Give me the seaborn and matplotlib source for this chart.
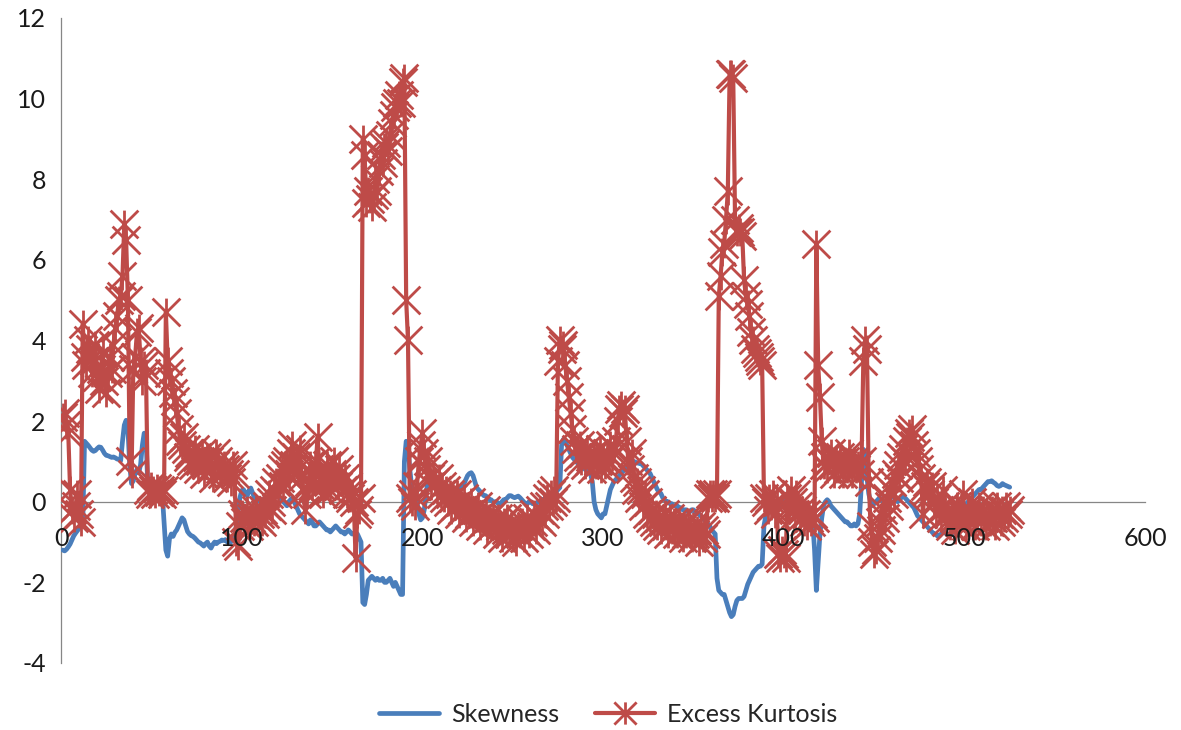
import matplotlib
matplotlib.use("Agg")
import matplotlib.pyplot as plt
from matplotlib.path import Path
import pandas as pd
import seaborn as sns

# skewness, one value per observation (index 1..)
skewness = [
    -1.20, -1.22, -1.18, -1.12, -1.05, -0.95, -0.85, -0.78, -0.72, -0.66,
    -0.62, -0.60, 1.50, 1.45, 1.40, 1.34, 1.28, 1.25, 1.27, 1.32,
    1.36, 1.35, 1.28, 1.20, 1.15, 1.14, 1.12, 1.10, 1.11, 1.09,
    1.06, 1.05, 1.02, 1.50, 1.90, 2.02, 1.80, 0.90, 0.45, 0.52,
    0.70, 0.80, 0.72, 0.92, 1.40, 1.70, 1.60, 0.40, 0.32, 0.30,
    0.26, 0.25, 0.30, 0.31, 0.28, 0.20, -0.50, -1.20, -1.35, -0.92,
    -0.80, -0.86, -0.76, -0.70, -0.60, -0.50, -0.40, -0.45, -0.60, -0.74,
    -0.80, -0.84, -0.86, -0.90, -0.95, -1.00, -1.02, -1.06, -1.10, -1.04,
    -1.00, -1.10, -1.15, -1.06, -1.00, -1.04, -1.00, -0.98, -0.95, -0.96,
    -0.94, -1.00, -0.99, -1.00, -0.95, -0.88, -0.60, -0.20, 0.10, 0.28,
    0.30, 0.20, 0.14, 0.28, 0.34, 0.22, 0.10, 0.08, 0.04, 0.00,
    0.00, 0.05, 0.10, 0.05, 0.00, -0.05, 0.00, 0.10, 0.20, 0.15,
    0.10, 0.05, 0.00, -0.05, -0.10, 0.00, 0.05, 0.10, 0.00, -0.10,
    -0.20, -0.30, -0.35, -0.40, -0.45, -0.50, -0.55, -0.45, -0.50, -0.60,
    -0.60, -0.55, -0.50, -0.55, -0.60, -0.65, -0.70, -0.70, -0.75, -0.70,
    -0.65, -0.60, -0.65, -0.70, -0.75, -0.75, -0.80, -0.75, -0.70, -0.75,
    -0.80, -0.80, -0.75, -0.80, -0.90, -1.00, -2.50, -2.55, -2.30, -1.95,
    -1.90, -1.85, -1.90, -1.95, -1.90, -1.95, -1.95, -1.90, -2.00, -2.00,
    -1.95, -1.90, -2.00, -2.10, -2.00, -2.10, -2.20, -2.30, -2.30, 1.00,
    1.50, 1.40, 0.80, 0.40, 0.30, 0.20, 0.00, -0.30, -0.45, -0.40,
    -0.20, 0.20, 0.50, 0.60, 0.60, 0.55, 0.50, 0.50, 0.45, 0.40,
    0.35, 0.30, 0.30, 0.25, 0.30, 0.25, 0.20, 0.20, 0.25, 0.30,
    0.35, 0.40, 0.45, 0.55, 0.65, 0.70, 0.72, 0.65, 0.50, 0.35,
    0.30, 0.25, 0.20, 0.15, 0.15, 0.10, 0.05, 0.05, 0.00, 0.00,
    0.00, -0.05, -0.05, 0.00, 0.05, 0.05, 0.10, 0.15, 0.15, 0.12,
    0.10, 0.12, 0.14, 0.10, 0.05, 0.00, -0.05, -0.05, 0.00, 0.00,
    -0.05, -0.05, -0.05, 0.00, 0.00, 0.05, 0.05, 0.10, 0.10, 0.10,
    0.10, 0.15, 0.20, 0.25, 0.30, 0.35, 1.40, 1.55, 1.50, 1.40,
    1.30, 1.20, 1.10, 1.05, 1.00, 0.95, 0.90, 0.90, 0.85, 0.80,
    0.80, 0.75, 0.70, 0.50, 0.00, -0.20, -0.30, -0.35, -0.40, -0.30,
    -0.30, -0.10, 0.10, 0.30, 0.40, 0.50, 0.55, 0.60, 0.65, 0.70,
    0.75, 0.80, 0.85, 0.90, 0.95, 1.00, 1.00, 0.98, 0.96, 0.95,
    0.95, 0.90, 0.85, 0.80, 0.75, 0.70, 0.60, 0.50, 0.40, 0.30,
    0.25, 0.20, 0.10, 0.05, 0.00, 0.00, -0.05, -0.05, -0.10, -0.10,
    -0.10, -0.15, -0.15, -0.20, -0.20, -0.20, -0.25, -0.25, -0.20, -0.20,
    -0.25, -0.30, -0.30, -0.35, -0.40, -0.45, -0.50, -0.55, -0.60, -0.70,
    -0.75, -0.80, -1.90, -2.20, -2.25, -2.30, -2.30, -2.45, -2.60, -2.75,
    -2.85, -2.80, -2.60, -2.45, -2.40, -2.40, -2.40, -2.35, -2.20, -2.05,
    -1.95, -1.85, -1.75, -1.70, -1.65, -1.60, -1.60, -1.55, -0.60, -0.35,
    -0.30, -0.25, -0.20, -0.20, -0.15, -0.15, -0.10, -0.10, -0.05, 0.00,
    0.00, 0.05, 0.05, 0.00, -0.05, -0.10, -0.10, -0.15, -0.20, -0.20,
    -0.25, -0.25, -0.30, -0.30, -0.40, -0.50, -1.20, -2.20, -1.50, -0.80,
    -0.40, -0.10, 0.00, 0.05, 0.00, -0.10, -0.15, -0.20, -0.25, -0.30,
    -0.35, -0.40, -0.45, -0.50, -0.50, -0.55, -0.60, -0.60, -0.55, -0.60,
    -0.55, -0.30, 0.50, 1.30, 1.20, 0.60, 0.20, 0.00, -0.10, -0.05,
    0.00, 0.05, 0.10, 0.05, 0.00, -0.05, 0.00, 0.05, 0.10, 0.15,
    0.10, 0.05, 0.00, 0.05, 0.10, 0.15, 0.10, 0.05, 0.00, -0.05,
    -0.10, -0.15, -0.25, -0.35, -0.40, -0.45, -0.50, -0.55, -0.60, -0.65,
    -0.70, -0.75, -0.80, -0.80, -0.85, -0.85, -0.80, -0.75, -0.75, -0.80,
    -0.80, -0.85, -0.80, -0.75, -0.60, -0.50, -0.40, -0.30, -0.20, -0.10,
    -0.05, 0.00, 0.05, 0.10, 0.15, 0.20, 0.25, 0.30, 0.30, 0.35,
    0.40, 0.45, 0.50, 0.50, 0.52, 0.48, 0.45, 0.40, 0.38, 0.40,
    0.45, 0.42, 0.40, 0.38, 0.36,
]

# excess kurtosis, one value per observation (index 1..)
excess_kurtosis = [
    2.10, 2.20, 1.90, 1.70, 0.30, -0.20, -0.40, -0.10, 0.20, -0.30,
    -0.50, 4.40, 3.60, 3.40, 4.00, 3.80, 3.20, 3.50, 3.90, 3.10,
    2.80, 3.30, 3.70, 3.00, 2.70, 3.20, 3.60, 3.30, 3.90, 4.30,
    4.60, 5.00, 5.10, 5.60, 6.90, 6.50, 5.00, 1.00, 0.70, 3.30,
    3.60, 4.20, 4.30, 3.50, 3.00, 3.40, 3.20, 0.30, 0.20, 0.40,
    0.30, 0.20, 0.35, 0.25, 0.30, 0.20, 0.30, 4.70, 3.50, 3.20,
    3.00, 2.70, 2.50, 2.20, 1.80, 1.50, 1.40, 1.60, 1.30, 1.10,
    1.20, 1.00, 0.90, 1.30, 1.10, 0.80, 1.00, 1.20, 0.70, 0.90,
    1.10, 1.00, 0.80, 0.60, 0.90, 1.20, 1.00, 0.80, 0.70, 0.90,
    0.80, 0.60, 0.70, 0.50, 0.90, 0.70, -1.00, -1.10, -0.60, -0.30,
    -0.40, -0.50, -0.20, -0.60, -0.40, -0.30, -0.50, -0.20, -0.40, -0.30,
    -0.50, -0.20, -0.30, -0.10, 0.20, 0.00, -0.20, 0.30, 0.50, 0.20,
    0.60, 0.80, 0.40, 0.90, 1.00, 0.70, 1.20, 1.40, 0.90, 1.10,
    0.80, 1.30, 0.60, 0.30, -0.20, 0.20, 0.50, 0.90, 0.40, 0.60,
    1.00, 1.60, 0.80, 0.40, 0.20, 0.60, 0.90, 0.50, 0.30, 0.70,
    1.00, 0.60, 0.40, 0.80, 0.50, 0.30, 0.60, 0.20, 0.40, 0.10,
    0.20, 0.00, -1.40, -0.30, -0.20, 0.10, 9.00, 8.60, 7.40, 7.70,
    7.50, 7.30, 7.60, 8.00, 7.70, 8.20, 8.60, 8.40, 8.80, 8.90,
    8.70, 9.10, 9.40, 9.60, 9.80, 9.90, 10.10, 9.90, 10.40, 10.50,
    5.00, 4.00, 0.10, 0.00, 0.20, -0.10, 0.40, 1.00, 1.40, 1.70,
    1.20, 0.80, 1.00, 0.60, 0.40, 0.70, 0.50, 0.30, 0.60, 0.20,
    0.40, 0.10, 0.30, 0.00, 0.20, -0.20, 0.10, -0.10, 0.20, -0.30,
    0.00, -0.20, 0.10, -0.40, -0.10, -0.30, 0.00, -0.50, -0.20, -0.40,
    -0.10, -0.60, -0.30, -0.50, -0.20, -0.70, -0.40, -0.60, -0.30, -0.50,
    -0.80, -0.40, -0.60, -0.90, -0.50, -0.70, -0.40, -0.80, -0.60, -0.90,
    -0.70, -1.00, -0.60, -0.80, -0.50, -0.90, -0.70, -0.40, -0.80, -0.60,
    -0.50, -0.30, -0.70, -0.40, -0.20, -0.50, -0.10, -0.30, 0.10, -0.10,
    0.20, 0.00, 0.30, 0.10, 3.50, 4.00, 3.80, 3.90, 3.40, 3.00,
    2.60, 2.20, 1.80, 1.50, 1.30, 1.10, 1.40, 1.00, 1.20, 0.90,
    1.30, 1.00, 1.10, 0.80, 1.20, 0.90, 1.00, 1.30, 0.80, 1.10,
    0.90, 1.20, 1.00, 1.40, 1.10, 1.30, 1.50, 2.00, 2.30, 2.40,
    2.20, 2.30, 1.50, 1.00, 0.80, 1.20, 0.60, 0.30, 0.50, 0.10,
    0.30, -0.10, 0.20, -0.30, 0.00, -0.40, -0.20, -0.50, -0.30, -0.60,
    -0.40, -0.70, -0.50, -0.30, -0.60, -0.80, -0.40, -0.70, -0.50, -0.60,
    -0.80, -0.50, -0.70, -0.90, -0.60, -0.80, -0.50, -0.70, -0.90, -0.60,
    -0.80, -0.70, -1.00, -0.60, -0.90, -0.70, -0.80, 0.10, 0.20, 0.10,
    0.20, 0.10, 0.20, 5.10, 5.60, 6.20, 6.40, 7.00, 7.70, 10.60,
    10.60, 10.50, 7.00, 6.70, 6.80, 6.70, 6.60, 5.50, 5.10, 4.90,
    4.60, 4.20, 4.00, 3.80, 3.70, 3.60, 3.50, 3.40, 0.10, 0.00,
    -0.20, 0.10, -0.10, 0.20, -0.30, 0.00, -1.30, -1.40, -1.20, -1.30,
    -1.40, 0.10, -0.20, 0.30, 0.00, -0.30, 0.20, -0.10, -0.40, -0.20,
    -0.50, -0.30, -0.60, -0.40, -0.50, -0.30, -0.40, 6.40, 3.40, 2.60,
    1.50, 0.90, 1.10, 0.80, 1.00, 1.20, 0.90, 0.70, 1.00, 0.80,
    1.10, 0.90, 0.70, 1.00, 0.80, 1.20, 0.90, 0.70, 1.00, 0.80,
    0.90, 0.70, 1.00, 3.50, 4.00, 3.80, 0.50, -0.60, -1.00, -1.30,
    -1.20, -0.90, -0.50, -0.70, -0.20, -0.40, 0.10, -0.10, 0.30, 0.50,
    0.20, 0.70, 0.90, 0.60, 1.10, 1.30, 1.00, 1.50, 1.70, 1.60,
    1.80, 1.40, 1.20, 1.00, 0.80, 0.60, -0.30, 0.40, 0.50, 0.30,
    0.20, 0.40, 0.00, -0.30, 0.10, -0.20, -0.40, 0.30, -0.10, -0.50,
    -0.30, -0.60, -0.20, -0.40, -0.70, -0.10, -0.50, -0.30, 0.20, -0.40,
    -0.60, -0.20, -0.50, 0.00, -0.30, -0.60, -0.40, -0.10, -0.50, -0.20,
    -0.40, -0.60, -0.30, -0.50, -0.20, -0.40, -0.60, -0.10, -0.30, -0.50,
    -0.20, -0.40, -0.10, -0.30, -0.20,
]

x_ticks = [0, 100, 200, 300, 400, 500, 600]
y_ticks = [-4, -2, 0, 2, 4, 6, 8, 10, 12]

BLUE = "#4a7ebb"
RED = "#be4b48"

sns.set_style("white")
plt.rcParams["font.family"] = ["Lato", "DejaVu Sans"]
plt.rcParams["axes.unicode_minus"] = False

skew_df = pd.DataFrame({"obs": range(1, len(skewness) + 1), "value": skewness})
kurt_df = pd.DataFrame({"obs": range(1, len(excess_kurtosis) + 1), "value": excess_kurtosis})

# excel "star" marker: an X with a vertical bar through it
star = Path([(-1, -1), (1, 1), (-1, 1), (1, -1), (0, -1), (0, 1)],
            [Path.MOVETO, Path.LINETO] * 3)

fig = plt.figure(figsize=(11.81, 7.30), dpi=100)
ax = fig.add_axes([0.0517, 0.0918, 0.918, 0.8836])

sns.lineplot(data=skew_df, x="obs", y="value", ax=ax, color=BLUE,
             linewidth=3.4, label="Skewness", sort=False)
sns.lineplot(data=kurt_df, x="obs", y="value", ax=ax, color=RED,
             linewidth=3.0, marker=star, markersize=20, markeredgewidth=2.0,
             markeredgecolor=RED, markerfacecolor="none",
             label="Excess Kurtosis", sort=False)

ax.set_xlim(0, 600)
ax.set_ylim(-4, 12)
ax.set_xticks(x_ticks)
ax.set_yticks(y_ticks)
ax.set_xlabel("")
ax.set_ylabel("")

for side in ["top", "right"]:
    ax.spines[side].set_visible(False)
ax.spines["bottom"].set_position(("data", 0))
for side in ["left", "bottom"]:
    ax.spines[side].set_color("#868686")
    ax.spines[side].set_linewidth(0.9)
    ax.spines[side].set_zorder(1)

ax.tick_params(axis="both", length=0, labelsize=18, labelcolor="#1a1a1a")
ax.tick_params(axis="x", pad=18)
ax.tick_params(axis="y", pad=11)
ax.xaxis.set_zorder(5)

ax.get_legend().remove()
handles, labels = ax.get_legend_handles_labels()
fig.legend(handles, labels, loc="lower center", ncol=2, frameon=False,
           bbox_to_anchor=(0.515, -0.025), fontsize=18, handlelength=2.4,
           handletextpad=0.5, columnspacing=1.4, markerscale=0.8)

fig.savefig("out.png", dpi=100)
